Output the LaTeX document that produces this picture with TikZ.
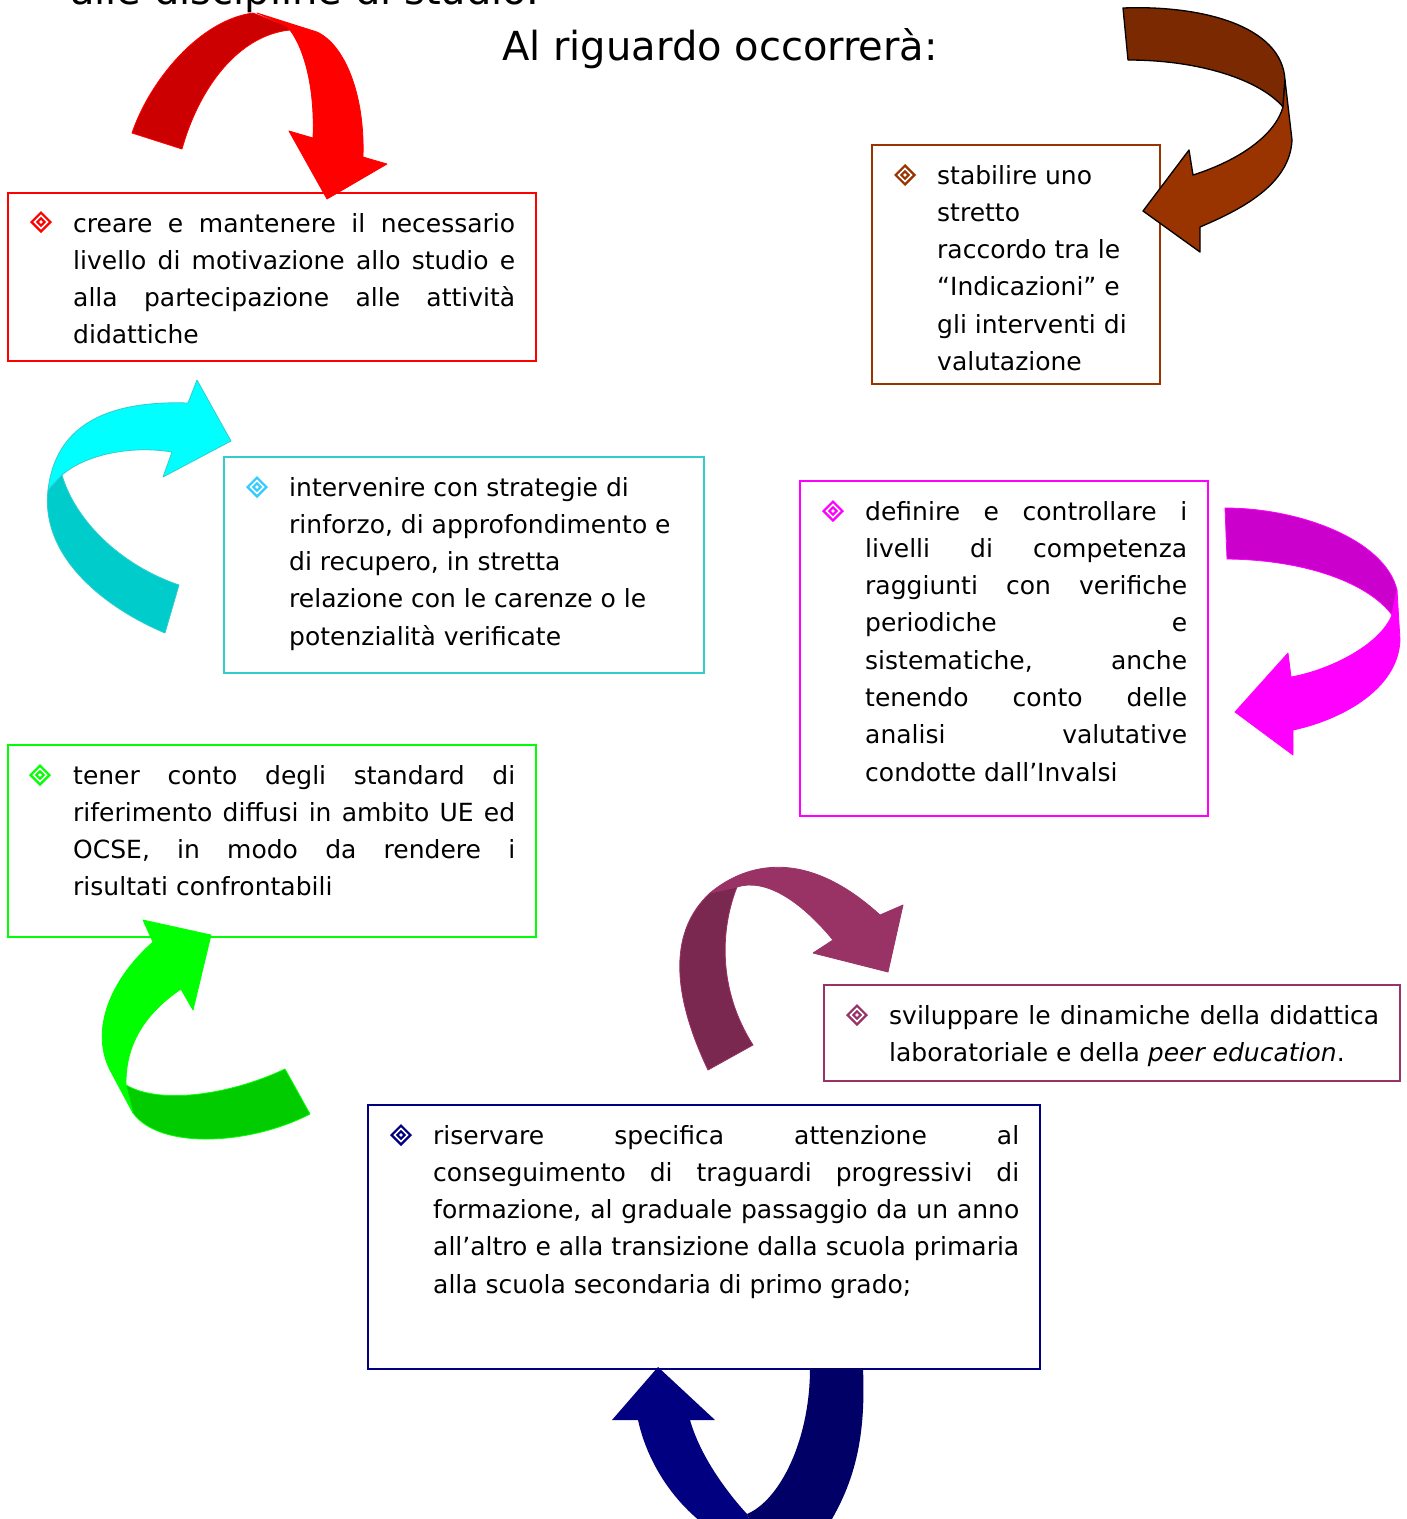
\documentclass[tikz,border=0pt]{standalone}
\usepackage{fontspec}
\setmainfont{DejaVu Sans}
\definecolor{cR}{HTML}{FF0000}\definecolor{cRd}{HTML}{CC0000}
\definecolor{cB}{HTML}{993300}\definecolor{cBd}{HTML}{7B2900}
\definecolor{cC}{HTML}{33CCCC}\definecolor{cCb}{HTML}{00FFFF}\definecolor{cCd}{HTML}{00CCCC}\definecolor{cCu}{HTML}{33CCFF}
\definecolor{cM}{HTML}{FF00FF}\definecolor{cMd}{HTML}{CC00CC}
\definecolor{cG}{HTML}{00FF00}\definecolor{cGd}{HTML}{00CC00}
\definecolor{cP}{HTML}{993366}\definecolor{cPd}{HTML}{7A2850}
\definecolor{cN}{HTML}{000080}\definecolor{cNd}{HTML}{000066}
\newcommand\jl[1]{\makebox[\linewidth][s]{#1}}
\newcommand\bodyfont{\fontsize{25}{37.3}\selectfont}
\begin{document}
\begin{tikzpicture}[x=1pt,y=-1pt,
  box/.style 2 args={draw, line width=2pt, fill=white, anchor=north west, inner sep=0pt, minimum width=#1, minimum height=#2},
  txt/.style={anchor=base west, inner sep=0pt, text=black},
  ttl/.style={anchor=base west, inner sep=0pt, font=\fontsize{40}{48}\selectfont},
  bul/.pic={
    \fill (0,-11)--(11,0)--(0,11)--(-11,0)--cycle;
    \draw[white,line width=1.6pt] (0,-6.5)--(6.5,0)--(0,6.5)--(-6.5,0)--cycle;
    \fill[white] (0,0) circle (1.8);
  }]
\useasboundingbox (0,0) rectangle (1407,1519);
\clip (0,0) rectangle (1407,1519);
\fill[white] (0,0) rectangle (1407,1519);

% title lines
\node[ttl] (top) at (70,4) {alle discipline di studio.};
\node[ttl] (title) at (502,60) {Al riguardo occorrerà:};

% boxes
\node[box={528pt}{168pt}, draw=cR] (bR) at (7,192) {};
\node[box={288pt}{239pt}, draw=cB] (bB) at (871,144) {};
\node[box={480pt}{216pt}, draw=cC] (bC) at (223,456) {};
\node[box={408pt}{335pt}, draw=cM] (bM) at (799,480) {};
\node[box={528pt}{192pt}, draw=cG] (bG) at (7,744) {};
\node[box={576pt}{96pt}, draw=cP] (bP) at (823,984) {};
\node[box={672pt}{264pt}, draw=cN] (bN) at (367,1104) {};

% red arrow
\filldraw[fill=cRd, draw=cR, line width=0.8pt, line join=round] (132,133) .. controls (150,80) and (200,20) .. (253,13) -- (287,26) -- (290,30) .. controls (240,35) and (200,85) .. (182,149) -- cycle;
\filldraw[fill=cR, draw=cR, line width=0.8pt, line join=round] (257,13) -- (317,32) .. controls (345,45) and (365,95) .. (363,157) -- (387,164) -- (327,199) -- (289,131) -- (313,138) .. controls (315,90) and (305,50) .. (290,30) -- (287,26) -- cycle;

% brown arrow
\filldraw[fill=cBd, draw=black, line width=1.3pt, line join=round] (1123,8) .. controls (1200,5) and (1282,25) .. (1285,80) -- (1283,107) .. controls (1260,80) and (1200,60) .. (1128,60) -- cycle;
\filldraw[fill=cB, draw=black, line width=1.3pt, line join=round] (1285,80) -- (1292,140) .. controls (1290,185) and (1240,210) .. (1200,227) -- (1200,252) -- (1143,211) -- (1189,150) -- (1193,175) .. controls (1240,160) and (1275,135) .. (1283,107) -- cycle;

% cyan arrow
\filldraw[fill=cCb, draw=cC, line width=0.8pt, line join=round] (48,490) .. controls (55,430) and (100,400) .. (188,403) -- (197,380) -- (231,441) -- (163,477) -- (172,452) .. controls (130,445) and (85,455) .. (62,475) -- cycle;
\filldraw[fill=cCd, draw=cC, line width=0.8pt, line join=round] (62,475) .. controls (75,520) and (120,565) .. (179,585) -- (165,633) .. controls (110,610) and (40,560) .. (48,490) -- cycle;

% magenta arrow
\filldraw[fill=cMd, draw=cM, line width=0.8pt, line join=round] (1225,508) .. controls (1300,508) and (1385,540) .. (1397,590) -- (1392,615) .. controls (1370,585) and (1310,560) .. (1227,559) -- cycle;
\filldraw[fill=cM, draw=cM, line width=0.8pt, line join=round] (1397,590) -- (1400,640) .. controls (1398,690) and (1340,720) .. (1293,730) -- (1293,755) -- (1235,712) -- (1288,653) -- (1291,677) .. controls (1330,670) and (1380,645) .. (1392,615) -- cycle;

% plum arrow
\filldraw[fill=cPd, draw=cP, line width=0.8pt, line join=round] (708,1070) .. controls (670,990) and (670,930) .. (710,893) -- (737,887) .. controls (720,930) and (718,990) .. (753,1045) -- cycle;
\filldraw[fill=cP, draw=cP, line width=0.8pt, line join=round] (710,893) .. controls (740,868) and (800,842) .. (880,915) -- (903,905) -- (888,972) -- (813,953) -- (833,940) .. controls (800,900) and (765,878) .. (737,887) -- cycle;

% green arrow
\filldraw[fill=cG, draw=cG, line width=0.8pt, line join=round] (153,942) .. controls (110,980) and (90,1030) .. (110,1070) -- (133,1113) -- (126,1085) .. controls (125,1040) and (150,1010) .. (181,989) -- (193,1010) -- (211,935) -- (143,920) -- cycle;
\filldraw[fill=cGd, draw=cG, line width=0.8pt, line join=round] (126,1085) .. controls (160,1105) and (230,1095) .. (285,1069) -- (310,1114) .. controls (250,1145) and (160,1150) .. (133,1113) -- cycle;

% navy arrow
\fill[cN] (638,1420) .. controls (650,1475) and (690,1525) .. (740,1545) -- (760,1545) -- (747,1514) .. controls (725,1490) and (700,1455) .. (690,1420) -- (715,1420) -- (658,1367) -- (612,1420) -- cycle;
\fill[cNd] (747,1514) .. controls (780,1500) and (810,1440) .. (810,1368) -- (863,1368) .. controls (866,1440) and (855,1490) .. (815,1545) -- (760,1545) -- cycle;

% bullets
\pic[color=cR] (uR) at (41,222) {bul};
\pic[color=cB] (uB) at (905,175) {bul};
\pic[color=cCu] (uC) at (257,487) {bul};
\pic[color=cM] (uM) at (833,511) {bul};
\pic[color=cG] (uG) at (40,775) {bul};
\pic[color=cP] (uP) at (857,1015) {bul};
\pic[color=cN] (uN) at (401,1135) {bul};

% texts
\node[txt] (tR) at (73,232) {\parbox[t]{442pt}{\bodyfont
\jl{creare e mantenere il necessario}\\
\jl{livello di motivazione allo studio e}\\
\jl{alla partecipazione alle attività}\\
didattiche}};
\node[txt] (tB) at (937,184) {\parbox[t]{220pt}{\bodyfont
stabilire uno\\ stretto\\ raccordo tra le\\ “Indicazioni” e\\ gli interventi di\\ valutazione}};
\node[txt] (tC) at (289,496) {\parbox[t]{405pt}{\bodyfont
intervenire con strategie di\\ rinforzo, di approfondimento e\\ di recupero, in stretta\\ relazione con le carenze o le\\ potenzialità verificate}};
\node[txt] (tM) at (865,520) {\parbox[t]{322pt}{\bodyfont
\jl{definire e controllare i}\\
\jl{livelli di competenza}\\
\jl{raggiunti con verifiche}\\
\jl{periodiche e}\\
\jl{sistematiche, anche}\\
\jl{tenendo conto delle}\\
\jl{analisi valutative}\\
condotte dall’Invalsi}};
\node[txt] (tG) at (73,784) {\parbox[t]{442pt}{\bodyfont
\jl{tener conto degli standard di}\\
\jl{riferimento diffusi in ambito UE ed}\\
\jl{OCSE, in modo da rendere i}\\
risultati confrontabili}};
\node[txt] (tP) at (889,1024) {\parbox[t]{490pt}{\fontsize{25}{37.8}\selectfont
\jl{sviluppare le dinamiche della didattica}\\
laboratoriale e della \textit{peer education}.}};
\node[txt] (tN) at (433,1144) {\parbox[t]{586pt}{\bodyfont
\jl{riservare specifica attenzione al}\\
\jl{conseguimento di traguardi progressivi di}\\
\jl{formazione, al graduale passaggio da un anno}\\
\jl{all’altro e alla transizione dalla scuola primaria}\\
alla scuola secondaria di primo grado;}};
\end{tikzpicture}
\end{document}
